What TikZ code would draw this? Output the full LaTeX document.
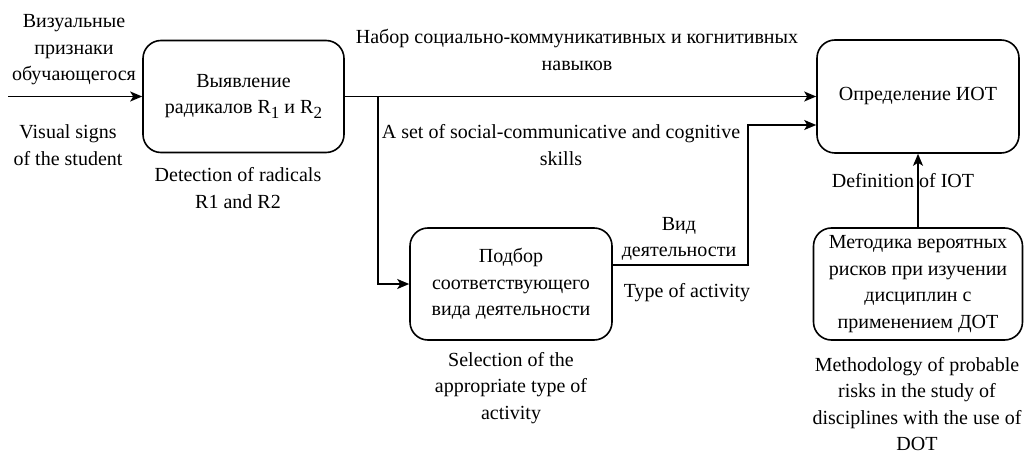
\documentclass[tikz,border=0pt]{standalone}
\usepackage{fontspec}
\setmainfont{Liberation Serif}
\usetikzlibrary{arrows.meta}
\newcommand{\lowidx}[1]{\raisebox{-5pt}{\fontsize{17}{17}\selectfont #1}}

\begin{document}
\begin{tikzpicture}[x=1pt,y=-1pt,line width=1.6pt,
    >={Stealth[length=12pt,width=10pt,inset=3pt]},
    every node/.style={font=\fontsize{20}{26.5}\selectfont},
    blk/.style={draw,rounded corners=18pt,align=center,inner sep=0pt},
    lbl/.style={align=center,inner sep=0pt}]
    \useasboundingbox (0,0) rectangle (1024,454);
    \node[blk,minimum width=201pt,minimum height=112pt] (detect) at (243.5,96.5) {Выявление\\радикалов R\lowidx{1} и R\lowidx{2}};
    \node[blk,minimum width=202pt,minimum height=112pt] (select) at (511,284) {Подбор\\соответствующего\\вида деятельности};
    \node[blk,minimum width=202pt,minimum height=113pt] (iot) at (918,96.5) {Определение ИОТ};
    \node[blk,minimum width=209pt,minimum height=112pt] (method) at (918,284) {Методика вероятных\\рисков при изучении\\дисциплин с\\применением ДОТ};
    \coordinate (in) at (8,96.5);
    \coordinate (fork) at (378,96.5);
    \draw[->] (in) -- (detect);
    \draw[->] (detect.east) -- (detect.east -| iot.west);
    \draw[->] (fork) |- (select);
    \draw[->] ([yshift=19pt]select.east) -- ++(135,0) |- ([yshift=-28.5pt]iot.west);
    \draw[->] (method) -- (iot);
    \node[lbl] (inru) at (74,50) {Визуальные\\признаки\\обучающегося};
    \node[lbl] (inen) at (68,145) {Visual signs\\of the student};
    \node[lbl] (detecten) at (238,188) {Detection of radicals\\R1 and R2};
    \node[lbl] (skillru) at (577,50) {Набор социально-коммуникативных и когнитивных\\навыков};
    \node[lbl] (skillen) at (561,145) {A set of social-communicative and cognitive\\skills};
    \node[lbl] (kindru) at (679,239) {Вид\\деятельности};
    \node[lbl] (kinden) at (687,293) {Type of activity};
    \node[lbl] (selecten) at (511,388) {Selection of the\\appropriate type of\\activity};
    \node[lbl] (ioten) at (903,181) {Definition of IOT};
    \node[lbl] (methoden) at (917,404) {Methodology of probable\\risks in the study of\\disciplines with the use of\\DOT};
\end{tikzpicture}
\end{document}
